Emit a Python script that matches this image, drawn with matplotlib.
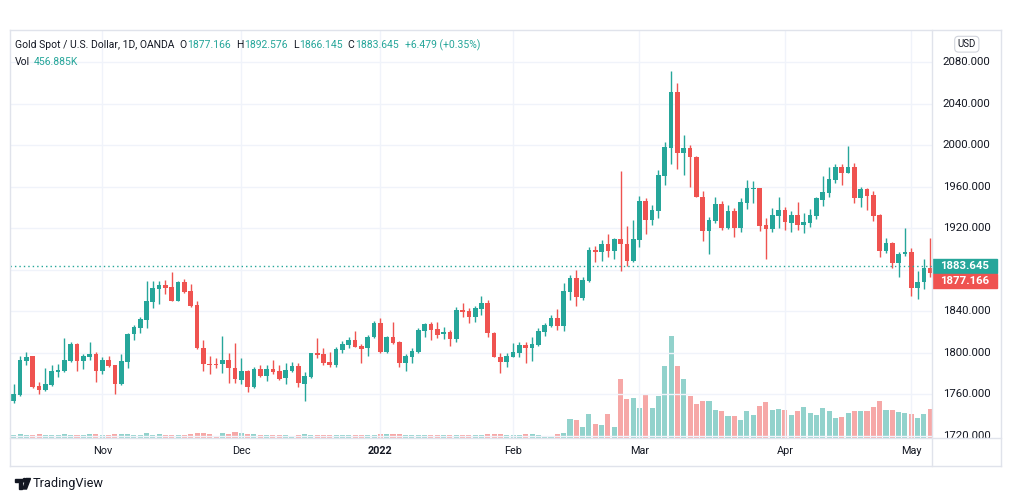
import matplotlib.pyplot as plt
import pandas as pd
from matplotlib.patches import Rectangle, Polygon, Circle
from matplotlib.lines import Line2D
from matplotlib.transforms import blended_transform_factory

plt.rcParams['font.family'] = ['Roboto', 'DejaVu Sans']

W, H = 1012, 501

# daily OHLC (Oct 12 2021 .. May 6 2022)
opens = [1753.5, 1759.3, 1792.4, 1796.6, 1768.0, 1764.1, 1769.0, 1781.8, 1782.4, 1792.4,
         1808.1, 1792.4, 1795.9, 1798.8, 1782.4, 1793.0, 1788.2, 1769.6, 1791.4, 1817.8,
         1824.2, 1831.6, 1849.3, 1861.8, 1865.3, 1863.4, 1850.2, 1867.9, 1859.5, 1846.0,
         1804.9, 1789.5, 1789.5, 1788.9, 1793.0, 1785.0, 1773.8, 1782.4, 1767.3, 1784.0,
         1777.6, 1784.0, 1782.4, 1775.4, 1782.7, 1787.2, 1770.2, 1777.0, 1799.8, 1798.9,
         1791.5, 1788.3, 1802.7, 1807.5, 1812.4, 1806.6, 1804.3, 1814.9, 1829.1, 1800.5,
         1815.0, 1810.8, 1790.5, 1796.3, 1801.1, 1821.0, 1827.5, 1822.6, 1817.8, 1820.4,
         1813.0, 1841.3, 1840.3, 1834.8, 1842.2, 1847.7, 1819.4, 1796.2, 1791.4, 1796.2,
         1800.1, 1807.5, 1804.9, 1807.5, 1820.4, 1826.1, 1833.2, 1826.1, 1858.9, 1872.4,
         1852.5, 1869.5, 1899.0, 1897.4, 1904.5, 1898.4, 1909.3, 1904.5, 1888.8, 1908.7,
         1946.3, 1928.0, 1936.6, 1970.4, 1997.7, 2051.7, 1992.9, 1997.4, 1989.0, 1950.5,
         1917.7, 1927.3, 1943.4, 1920.6, 1936.6, 1920.6, 1944.7, 1958.2, 1958.5, 1923.2,
         1919.3, 1932.2, 1937.6, 1925.4, 1932.8, 1923.1, 1925.4, 1931.8, 1947.2, 1954.3,
         1966.5, 1978.7, 1973.6, 1978.7, 1949.5, 1957.9, 1952.1, 1932.8, 1898.1, 1905.5,
         1886.2, 1895.0, 1897.4, 1862.7, 1867.9, 1881.4, 1877.166]
highs = [1770.0, 1796.9, 1800.4, 1797.2, 1771.5, 1785.0, 1788.2, 1789.2, 1813.9, 1810.0,
         1809.0, 1798.8, 1810.0, 1801.0, 1795.9, 1796.9, 1788.6, 1798.8, 1819.4, 1826.8,
         1834.2, 1869.2, 1869.5, 1869.5, 1870.5, 1878.2, 1868.8, 1871.1, 1866.0, 1849.9,
         1812.3, 1797.2, 1795.3, 1816.2, 1800.1, 1809.7, 1794.6, 1783.4, 1786.6, 1788.2,
         1788.2, 1793.0, 1788.2, 1789.8, 1791.4, 1789.8, 1781.1, 1799.8, 1814.6, 1804.3,
         1801.1, 1805.9, 1811.4, 1814.9, 1821.4, 1808.5, 1817.2, 1831.0, 1833.2, 1816.2,
         1830.1, 1811.2, 1798.9, 1804.3, 1823.6, 1829.1, 1829.4, 1830.1, 1824.6, 1822.0,
         1843.9, 1848.4, 1842.9, 1845.1, 1854.7, 1850.9, 1820.3, 1799.4, 1799.4, 1809.7,
         1810.7, 1810.7, 1814.9, 1823.5, 1828.4, 1836.4, 1842.2, 1866.9, 1874.9, 1879.8,
         1873.3, 1901.6, 1902.9, 1908.7, 1914.5, 1910.9, 1975.5, 1922.2, 1928.0, 1951.4,
         1948.9, 1942.4, 1976.2, 2003.5, 2071.9, 2060.4, 2009.9, 2000.3, 1989.7, 1956.0,
         1930.5, 1950.5, 1946.3, 1942.4, 1939.2, 1948.9, 1966.5, 1965.6, 1959.2, 1929.6,
         1939.2, 1950.5, 1940.8, 1936.6, 1945.0, 1934.4, 1938.6, 1950.5, 1970.4, 1978.7,
         1981.9, 1981.9, 1999.3, 1982.6, 1959.5, 1958.5, 1956.2, 1933.4, 1910.9, 1907.1,
         1897.4, 1920.6, 1900.7, 1878.8, 1890.4, 1910.3, 1892.576]
lows = [1751.3, 1758.6, 1788.2, 1765.7, 1760.6, 1763.1, 1768.0, 1777.0, 1781.8, 1791.4,
        1782.7, 1784.0, 1793.3, 1772.1, 1779.5, 1786.6, 1759.9, 1768.9, 1785.6, 1812.3,
        1819.4, 1823.6, 1843.5, 1846.7, 1857.0, 1849.9, 1849.9, 1857.9, 1843.8, 1803.3,
        1782.4, 1779.2, 1785.0, 1780.8, 1770.5, 1770.5, 1769.9, 1762.5, 1766.4, 1776.3,
        1773.1, 1779.5, 1773.8, 1769.9, 1781.8, 1767.3, 1753.8, 1776.0, 1795.3, 1788.3,
        1786.0, 1786.7, 1799.5, 1804.3, 1805.3, 1790.5, 1796.9, 1814.6, 1799.5, 1799.5,
        1808.5, 1786.0, 1782.8, 1790.5, 1800.2, 1815.6, 1812.4, 1814.0, 1813.0, 1806.9,
        1810.8, 1834.9, 1829.1, 1830.0, 1836.4, 1815.5, 1795.6, 1780.8, 1785.9, 1795.6,
        1795.6, 1789.8, 1792.4, 1806.5, 1816.2, 1825.2, 1821.9, 1821.3, 1850.9, 1845.1,
        1850.9, 1868.5, 1887.8, 1888.8, 1892.6, 1890.7, 1879.1, 1883.6, 1887.8, 1902.3,
        1914.5, 1923.2, 1930.2, 1961.7, 1982.0, 1976.8, 1971.4, 1960.1, 1950.0, 1907.7,
        1895.2, 1924.8, 1918.3, 1919.0, 1911.3, 1916.7, 1938.6, 1944.1, 1917.4, 1890.1,
        1916.7, 1920.6, 1918.3, 1916.7, 1918.3, 1915.1, 1921.5, 1928.9, 1941.5, 1950.5,
        1963.9, 1961.7, 1973.6, 1944.0, 1940.8, 1937.6, 1927.0, 1892.6, 1895.8, 1882.0,
        1873.4, 1893.6, 1854.7, 1851.8, 1861.4, 1873.4, 1866.145]
closes = [1760.3, 1793.0, 1795.9, 1767.3, 1764.4, 1769.9, 1782.4, 1783.4, 1793.0, 1808.4,
          1792.1, 1796.9, 1798.8, 1782.4, 1793.0, 1787.6, 1769.6, 1792.1, 1818.1, 1824.5,
          1832.5, 1849.9, 1862.1, 1865.3, 1862.8, 1850.2, 1868.5, 1858.9, 1845.1, 1804.3,
          1788.9, 1788.5, 1788.5, 1793.0, 1785.0, 1774.4, 1782.4, 1767.3, 1784.0, 1777.6,
          1784.0, 1781.8, 1774.7, 1783.4, 1787.2, 1770.5, 1777.6, 1799.5, 1797.9, 1790.5,
          1788.3, 1803.7, 1808.5, 1812.4, 1805.9, 1803.7, 1814.9, 1829.1, 1801.1, 1815.6,
          1809.2, 1790.5, 1797.0, 1802.1, 1822.0, 1827.5, 1822.0, 1817.2, 1820.4, 1813.3,
          1841.3, 1839.0, 1834.2, 1843.5, 1847.7, 1819.4, 1796.2, 1791.4, 1796.9, 1800.7,
          1807.5, 1804.9, 1808.4, 1821.0, 1826.8, 1833.2, 1826.1, 1859.5, 1872.4, 1853.4,
          1870.1, 1899.0, 1897.4, 1904.5, 1898.4, 1909.7, 1904.5, 1888.8, 1909.7, 1946.3,
          1928.0, 1937.6, 1971.4, 1998.0, 2051.7, 1992.9, 1997.4, 1989.0, 1950.5, 1917.7,
          1928.0, 1943.1, 1920.0, 1936.6, 1920.6, 1945.0, 1958.5, 1959.2, 1922.2, 1919.3,
          1932.8, 1937.6, 1925.7, 1932.8, 1923.1, 1925.7, 1932.8, 1948.9, 1954.6, 1967.2,
          1978.7, 1973.6, 1978.7, 1949.5, 1957.9, 1951.1, 1932.2, 1898.1, 1905.5, 1886.2,
          1895.2, 1897.1, 1862.7, 1868.5, 1881.4, 1877.166, 1883.645]
# volume in thousands
volumes = [53, 64, 53, 48, 64, 53, 53, 53, 64, 53,
           53, 53, 64, 64, 53, 53, 64, 64, 64, 53,
           53, 80, 53, 64, 53, 53, 43, 53, 64, 80,
           80, 64, 32, 80, 64, 96, 80, 64, 64, 53,
           48, 53, 53, 48, 37, 53, 64, 53, 53, 53,
           48, 43, 43, 43, 43, 48, 48, 53, 59, 59,
           59, 69, 53, 53, 48, 48, 48, 53, 43, 48,
           48, 48, 48, 43, 43, 59, 59, 59, 43, 43,
           43, 59, 59, 43, 27, 27, 59, 80, 299, 283,
           176, 389, 229, 203, 379, 176, 939, 619, 640, 480,
           693, 480, 677, 1147, 1637, 1157, 949, 677, 549, 587,
           587, 453, 427, 357, 357, 293, 427, 373, 517, 571,
           443, 469, 453, 373, 427, 501, 395, 373, 480, 437,
           320, 341, 395, 437, 437, 437, 501, 587, 453, 453,
           421, 405, 389, 325, 389, 469, 456.885]

month_labels = ['Nov', 'Dec', '2022', 'Feb', 'Mar', 'Apr', 'May']
price_ticks = [1720, 1760, 1800, 1840, 1880, 1920, 1960, 2000, 2040, 2080]

dates = pd.bdate_range('2021-10-12', '2022-05-06')
dates = dates.drop([pd.Timestamp('2021-12-24'), pd.Timestamp('2022-04-15')])
idx = list(range(len(dates)))
month_pos = [i for i in idx[1:] if dates[i].month != dates[i - 1].month]

UP, DOWN = '#26a69a', '#ef5350'
GRID = '#f0f3fa'
BORDER = '#e0e3eb'
TXT = '#131722'

colors = [UP if c >= o else DOWN for o, c in zip(opens, closes)]
bottoms = [min(o, c) for o, c in zip(opens, closes)]
heights = [max(abs(c - o), 1.0) for o, c in zip(opens, closes)]

fig = plt.figure(figsize=(W / 100, H / 100), dpi=100)
fig.patch.set_facecolor('white')

# pane: x 10..932 px, y 30..438 px
rect = [10 / W, 1 - 438 / H, 922 / W, 408 / H]
ax = fig.add_axes(rect)
ax_vol = ax.twinx()
ax.set_zorder(ax_vol.get_zorder() + 1)
ax.patch.set_visible(False)

ymin, ymax = 1717.9, 2111.1
ax.set_ylim(ymin, ymax)
ax.set_xlim(-0.6, 145.28)
ax_vol.set_ylim(0, 16 * 408)

# grid under volume
for p in price_ticks:
    ax_vol.add_line(Line2D([0, 1], [p, p], color=GRID, lw=1,
                           transform=blended_transform_factory(ax_vol.transAxes, ax.transData)))
for m in month_pos:
    ax_vol.axvline(m, color=GRID, lw=1)

ax_vol.bar(idx, volumes, width=0.8, color=colors, alpha=0.5, linewidth=0)

ax.vlines(idx, lows, highs, colors=colors, linewidth=1)
ax.bar(idx, heights, bottom=bottoms, width=0.74, color=colors, linewidth=0)
ax.axhline(closes[-1], color=UP, lw=1, linestyle=(0, (1, 2.2)))

for a in (ax, ax_vol):
    for s in a.spines.values():
        s.set_visible(False)
    a.set_yticks([])
ax_vol.tick_params(right=False, labelright=False)
ax.set_xticks(month_pos, month_labels)
ax.tick_params(axis='x', length=0, pad=6, labelsize=7.8, labelcolor=TXT)
ax.get_xticklabels()[2].set_fontweight('bold')

# price scale
ax_p = fig.add_axes([932 / W, 1 - 438 / H, 69 / W, 408 / H])
ax_p.set_ylim(ymin, ymax)
ax_p.set_xlim(0, 1)
ax_p.axis('off')
px = (ymax - ymin) / 408
tag_h = 14 * px
for p in price_ticks:
    # the last-price tags cover this level
    if closes[-1] - 22 * px < p < closes[-1] + 12 * px:
        continue
    ax_p.text(0.503, p, f'{p:.3f}', ha='center', va='center', fontsize=8.2,
              color=TXT, clip_on=True)
for val, col, off in [(closes[-1], UP, 0), (closes[-2], DOWN, 15 * px)]:
    yc = closes[-1] - off
    ax_p.add_patch(Rectangle((0.005, yc - tag_h / 2), 0.93, tag_h, color=col, zorder=5))
    ax_p.text(0.47, yc, f'{val:.3f}', ha='center', va='center', fontsize=8.2,
              color='white', fontweight='bold', zorder=6)

# overlay in pixel coordinates
ov = fig.add_axes([0, 0, 1, 1])
ov.set_xlim(0, W)
ov.set_ylim(H, 0)
ov.axis('off')
ov.set_zorder(10)
for xs, ys in [([10, 1001], [30, 30]), ([10, 1001], [466, 466]), ([10, 10], [30, 466]),
               ([1001, 1001], [30, 466]), ([932, 932], [30, 466]), ([10, 1001], [438, 438])]:
    ov.add_line(Line2D(xs, ys, color=BORDER, lw=1))

ov.text(966.8, 44.2, 'USD', ha='center', va='center', fontsize=7, color=TXT,
        bbox=dict(boxstyle='round,pad=0.3,rounding_size=0.4', fc='white', ec='#d1d4dc', lw=0.8))

renderer = fig.canvas.get_renderer()
hdr = 7.5

ov.text(15, 45, 'Gold Spot / U.S. Dollar, 1D, OANDA', fontsize=hdr, color=TXT, va='center')

# OHLC legend: evenly spaced groups between x=179 and x=480
chg = closes[-1] - opens[-1]
groups = [('O', f'{opens[-1]:.3f}'), ('H', f'{highs[-1]:.3f}'), ('L', f'{lows[-1]:.3f}'),
          ('C', f'{closes[-1]:.3f}'), ('', f'+{chg:.3f} (+{chg / opens[-1] * 100:.2f}%)')]
pieces = []
for lab, val in groups:
    t1 = ov.text(0, 45, lab, fontsize=hdr, color=TXT, va='center')
    t2 = ov.text(0, 45, val, fontsize=hdr, color=UP, va='center')
    w1 = t1.get_window_extent(renderer).width if lab else 0
    w2 = t2.get_window_extent(renderer).width
    pieces.append((t1, t2, w1, w2))
total = sum(p[2] + 0.5 + p[3] for p in pieces)
gap = (480 - 179.3 - total) / (len(pieces) - 1)
x = 179.3
for t1, t2, w1, w2 in pieces:
    t1.set_x(x)
    t2.set_x(x + w1 + 0.5)
    x += w1 + 0.5 + w2 + gap

t = ov.text(15, 62.3, 'Vol', fontsize=hdr, color=TXT, va='center')
ov.text(t.get_window_extent(renderer).x1 + 4, 62.3, f'{volumes[-1]:.3f}K',
        fontsize=hdr, color=UP, va='center')

# TradingView logo
ov.add_patch(Polygon([(15, 478.5), (22.5, 478.5), (22.5, 489), (19, 489), (19, 482), (15, 482)],
                     color=TXT))
ov.add_patch(Circle((24.6, 480.3), 1.8, color=TXT))
ov.add_patch(Polygon([(26.5, 478.5), (30.5, 478.5), (26.5, 489), (22.8, 489)], color=TXT))
ov.text(33, 483.5, 'TradingView', fontsize=9.2, color=TXT, va='center')

fig.savefig('out.png', dpi=100)
